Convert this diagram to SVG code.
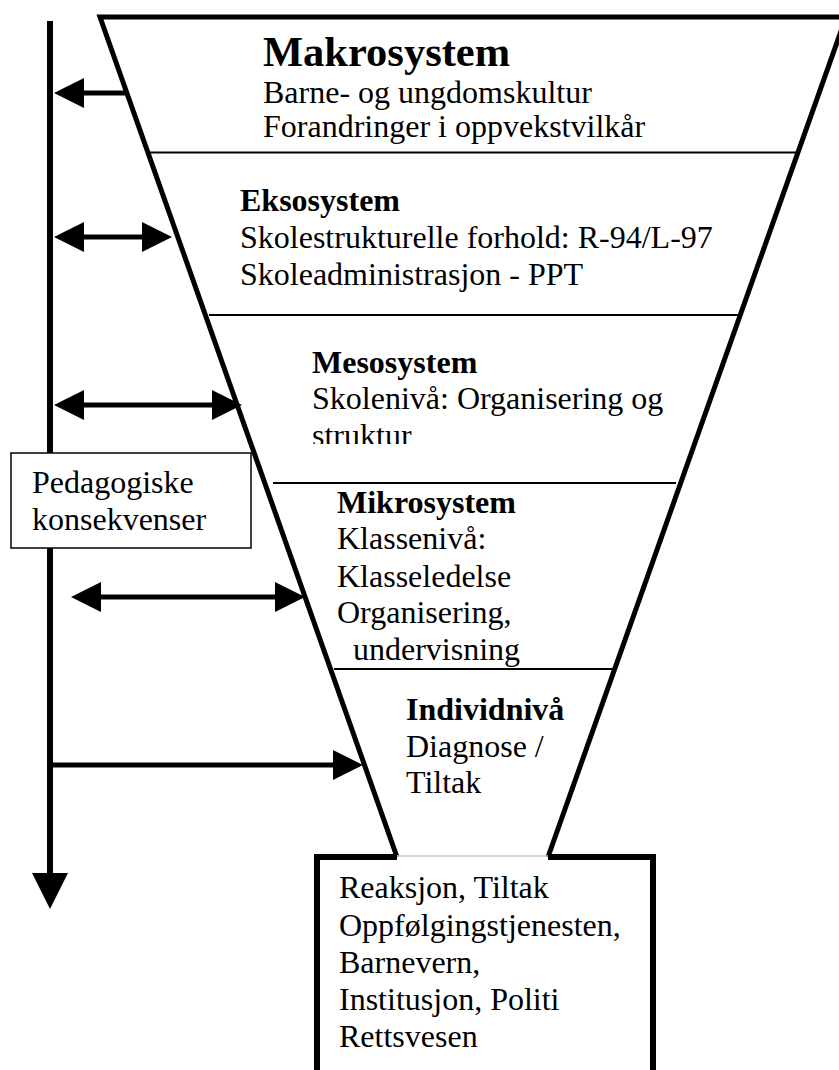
<svg xmlns="http://www.w3.org/2000/svg" width="839" height="1070" viewBox="0 0 839 1070">
<style>
  .t { font-family: "Liberation Serif", "Times New Roman", serif; font-size: 32px; fill: #000; }
  .b { font-weight: bold; }
  .sep { stroke: #000; stroke-width: 2; fill: none; }
  .thick { stroke: #000; stroke-width: 5; fill: none; stroke-linejoin: miter; }
  .shaft { stroke: #000; stroke-width: 5; fill: none; }
</style>
<defs>
  <marker id="ah" markerUnits="userSpaceOnUse" markerWidth="31" markerHeight="30" refX="1" refY="15" orient="auto-start-reverse">
    <path d="M0,0 L30,15 L0,30 Z" fill="#000"/>
  </marker>
  <marker id="ahBig" markerUnits="userSpaceOnUse" markerWidth="37" markerHeight="36" refX="1" refY="18" orient="auto">
    <path d="M0,0 L36,18 L0,36 Z" fill="#000"/>
  </marker>
  <clipPath id="mesoClip"><rect x="230" y="320" width="500" height="124"/></clipPath>
</defs>
<rect width="839" height="1070" fill="#fff"/>

<g id="funnel">
  <path class="thick" d="M397,857 L100,17 L846,17 L548,857"/>
  <line class="sep" x1="148" y1="152.5" x2="798" y2="152.5"/>
  <line class="sep" x1="209" y1="315" x2="740" y2="315"/>
  <line class="sep" x1="273" y1="483" x2="676" y2="483"/>
  <line class="sep" x1="334" y1="669" x2="613" y2="669"/>
</g>

<g id="makrosystem">
  <text class="t b" x="263" y="66" style="font-size:42.5px">Makrosystem</text>
  <text class="t" x="263" y="103">Barne- og ungdomskultur</text>
  <text class="t" x="263" y="137">Forandringer i oppvekstvilkår</text>
</g>

<g id="eksosystem">
  <text class="t b" x="240" y="211">Eksosystem</text>
  <text class="t" x="240" y="248">Skolestrukturelle forhold: R-94/L-97</text>
  <text class="t" x="240" y="285">Skoleadministrasjon - PPT</text>
</g>

<g id="mesosystem" clip-path="url(#mesoClip)">
  <text class="t b" x="312" y="373">Mesosystem</text>
  <text class="t" x="312" y="409">Skolenivå: Organisering og</text>
  <text class="t" x="312" y="446">struktur</text>
</g>

<g id="mikrosystem">
  <text class="t b" x="337" y="513">Mikrosystem</text>
  <text class="t" x="337" y="549">Klassenivå:</text>
  <text class="t" x="337" y="587">Klasseledelse</text>
  <text class="t" x="337" y="623">Organisering,</text>
  <text class="t" x="353" y="660">undervisning</text>
</g>

<g id="individniva">
  <text class="t b" x="406" y="720">Individnivå</text>
  <text class="t" x="406" y="757">Diagnose /</text>
  <text class="t" x="406" y="793">Tiltak</text>
</g>

<g id="reaksjon">
  <line x1="397" y1="856" x2="548" y2="856" stroke="#c8c8c8" stroke-width="1.5"/>
  <path d="M317,1075 V857 H397 M548,857 H653 V1075" stroke="#000" stroke-width="6" fill="none" stroke-linejoin="miter"/>
  <text class="t" x="339" y="898">Reaksjon, Tiltak</text>
  <text class="t" x="339" y="936">Oppfølgingstjenesten,</text>
  <text class="t" x="339" y="973">Barnevern,</text>
  <text class="t" x="339" y="1010">Institusjon, Politi</text>
  <text class="t" x="339" y="1047">Rettsvesen</text>
</g>

<g id="connectors">
  <line x1="50" y1="21" x2="50" y2="874" stroke="#000" stroke-width="6" marker-end="url(#ahBig)"/>
  <line class="shaft" x1="125" y1="93" x2="83" y2="93" marker-end="url(#ah)"/>
  <line class="shaft" x1="83" y1="237" x2="143" y2="237" marker-start="url(#ah)" marker-end="url(#ah)"/>
  <line class="shaft" x1="83" y1="405" x2="213" y2="405" marker-start="url(#ah)" marker-end="url(#ah)"/>
  <line class="shaft" x1="100" y1="597" x2="276" y2="597" marker-start="url(#ah)" marker-end="url(#ah)"/>
  <line class="shaft" x1="50" y1="765" x2="334" y2="765" marker-end="url(#ah)"/>
</g>

<g id="pedagogiske">
  <rect x="11" y="453" width="240" height="95" fill="#fff" stroke="#000" stroke-width="1.5"/>
  <text class="t" x="32" y="493">Pedagogiske</text>
  <text class="t" x="32" y="530">konsekvenser</text>
</g>
</svg>
